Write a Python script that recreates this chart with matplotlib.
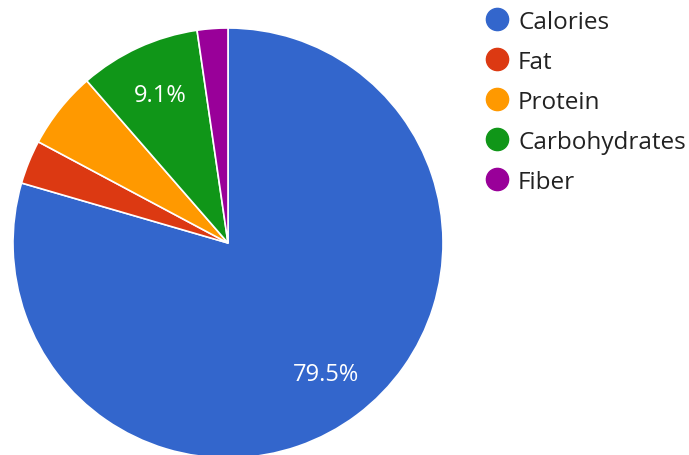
import matplotlib.pyplot as plt
from matplotlib.lines import Line2D

plt.rcParams['font.family'] = ['Open Sans', 'DejaVu Sans']

categories = ['Calories', 'Fat', 'Protein', 'Carbohydrates', 'Fiber']
values = [79.5, 3.3, 5.8, 9.1, 2.3]
colors = ['#3366cc', '#dc3912', '#ff9900', '#109618', '#990099']

fig = plt.figure(figsize=(6.89, 4.56), dpi=100)
ax = fig.add_axes([228/689 - 215/689, (456-244-215)/456, 430/689, 430/456])

def pct_label(p):
    return f'{p:.1f}%' if p > 8 else ''

wedges, texts, autotexts = ax.pie(values, colors=colors, startangle=90, counterclock=False,
                                  autopct=pct_label, pctdistance=0.76,
                                  wedgeprops=dict(edgecolor='white', linewidth=1.2),
                                  textprops=dict(color='white', fontsize=17))
ax.set_aspect('equal')
ax.set_xlim(-1, 1)
ax.set_ylim(-1, 1)

handles = [Line2D([], [], marker='o', linestyle='', markersize=16, markerfacecolor=c,
                  markeredgecolor=c) for c in colors]
fig.legend(handles, categories, loc='upper left', bbox_to_anchor=(485/689, 1 - 11/456),
           frameon=False, fontsize=17.5, labelspacing=0.655, handletextpad=0.36,
           handlelength=1.0, borderpad=0, borderaxespad=0, labelcolor='#222222')

fig.savefig('out.png', dpi=100)
